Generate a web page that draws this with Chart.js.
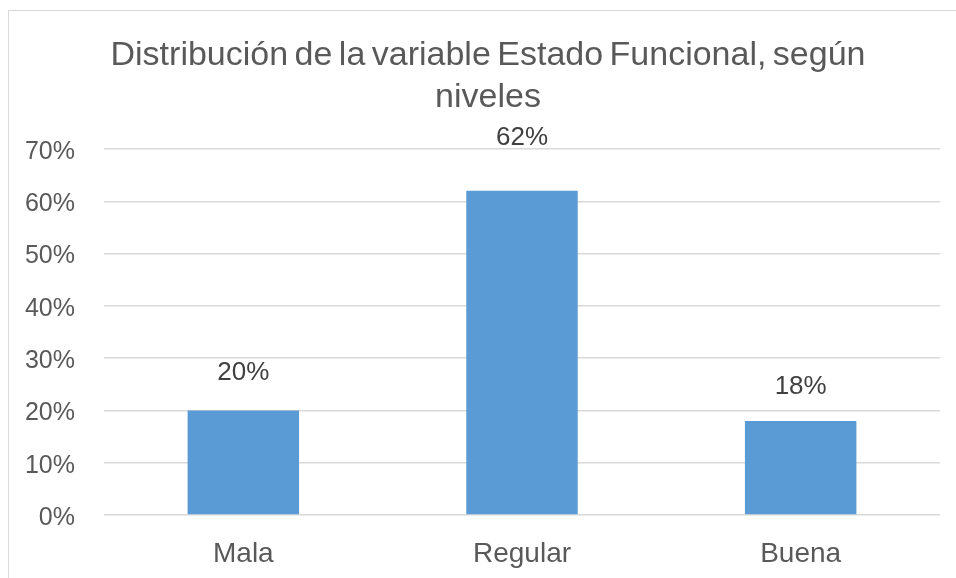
<!DOCTYPE html>
<html>
<head>
<meta charset="utf-8">
<script src="https://cdn.jsdelivr.net/npm/chart.js@4/dist/chart.umd.min.js"></script>
<style>
  html, body { margin: 0; padding: 0; background: #ffffff; overflow: hidden; }
  #wrap { position: relative; width: 956px; height: 578px; }
  #frame { position: absolute; left: 8px; top: 10px; width: 1000px; height: 1000px;
           border-left: 1.5px solid #d9d9d9; border-top: 1.5px solid #d9d9d9; }
  #c { position: absolute; left: 0; top: 0; }
</style>
</head>
<body>
<div id="wrap">
  <div id="frame"></div>
  <canvas id="c" width="956" height="578"></canvas>
</div>
<script>
const categories = ['Mala', 'Regular', 'Buena'];
const percentValues = [20, 62, 18];
const yTickValues = [0, 10, 20, 30, 40, 50, 60, 70];
const titleLines = ['Distribución de la variable Estado Funcional, según', 'niveles'];

const FONT = "'Liberation Sans', Arial, sans-serif";

const titleShift = {
  id: 'titleShift',
  afterLayout(chart) {
    if (chart.titleBlock) chart.titleBlock.left = 36;
  },
  beforeDraw(chart) { chart.ctx.wordSpacing = '-3px'; },
  afterDraw(chart) { chart.ctx.wordSpacing = '0px'; }
};

const barLabels = {
  id: 'barLabels',
  afterDatasetsDraw(chart, args, opts) {
    const ctx = chart.ctx;
    const meta = chart.getDatasetMeta(0);
    ctx.save();
    ctx.font = opts.font;
    ctx.fillStyle = opts.color;
    ctx.textAlign = 'center';
    ctx.textBaseline = 'middle';
    meta.data.forEach((bar, i) => {
      const v = chart.data.datasets[0].data[i];
      ctx.fillText(v + '%', bar.x, bar.y - opts.offsets[i]);
    });
    ctx.restore();
  }
};

new Chart(document.getElementById('c'), {
  type: 'bar',
  data: {
    labels: categories,
    datasets: [{
      data: percentValues,
      backgroundColor: '#5b9bd5',
      borderWidth: 0,
      barPercentage: 0.4,
      categoryPercentage: 1.0
    }]
  },
  options: {
    responsive: false,
    animation: false,
    devicePixelRatio: 1,
    layout: { padding: { left: 0, right: 16, top: 0, bottom: 0 } },
    plugins: {
      legend: { display: false },
      tooltip: { enabled: false },
      title: {
        display: true,
        text: titleLines,
        color: '#595959',
        font: { family: FONT, size: 34, weight: 'normal', lineHeight: 1.235 },
        padding: { top: 35, bottom: 30 }
      },
      barLabels: {
        font: "26px " + FONT,
        color: '#404040',
        offsets: [38, 53, 34.5]
      }
    },
    scales: {
      x: {
        grid: { display: false, drawTicks: false },
        border: { display: false },
        ticks: { color: '#595959', font: { family: FONT, size: 28 }, padding: 22 },
        afterFit(scale) { scale.height = 63; }
      },
      y: {
        min: 0,
        max: 70,
        afterBuildTicks(scale) { scale.ticks = yTickValues.map(v => ({ value: v })); },
        grid: { color: '#d9d9d9', lineWidth: 1.5, drawTicks: false },
        border: { display: false },
        ticks: {
          color: '#595959',
          font: { family: FONT, size: 25 },
          padding: 29,
          labelOffset: 3,
          callback: v => v + '%'
        },
        afterFit(scale) { scale.width = 104; }
      }
    }
  },
  plugins: [titleShift, barLabels]
});
</script>
</body>
</html>
